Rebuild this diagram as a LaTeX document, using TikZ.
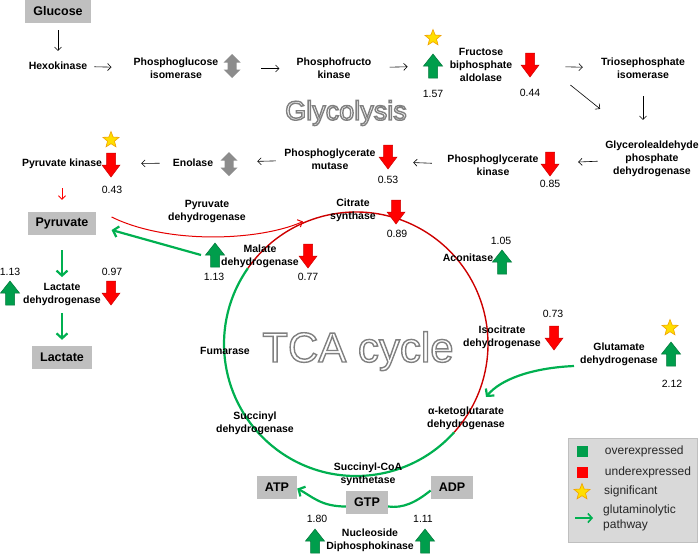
\documentclass[tikz,border=0pt]{standalone}
\usepackage{fontspec}
\setmainfont{Liberation Sans}
\usetikzlibrary{arrows.meta}
\usetikzlibrary{positioning}
\usetikzlibrary{calc}
\usetikzlibrary{shapes.geometric}

\definecolor{upgreen}{RGB}{0,158,76}
\definecolor{linegreen}{RGB}{0,176,80}
\definecolor{downred}{RGB}{255,0,0}
\definecolor{cyclered}{RGB}{205,0,0}
\definecolor{boxgray}{RGB}{191,191,191}
\definecolor{leggray}{RGB}{217,217,217}
\definecolor{arrgray}{RGB}{140,140,140}
\definecolor{staryellow}{RGB}{255,222,0}
\definecolor{starorange}{RGB}{240,160,0}

\newcommand{\ghostword}[1]{\color{white}\special{pdf:literal direct 0.5 G 1.4 w 2 Tr}#1\special{pdf:literal direct 0 Tr}}

\tikzset{
  enz/.style={font=\bfseries\fontsize{10.5}{13}\selectfont, align=center, inner sep=1pt},
  val/.style={font=\fontsize{10.5}{13}\selectfont, inner sep=1pt},
  met/.style={fill=boxgray, font=\bfseries\fontsize{12.5}{15}\selectfont, minimum height=23pt, inner xsep=8pt},
  legtext/.style={font=\fontsize{12}{15}\selectfont, text=black!85, inner sep=1pt},
  flow/.style={-{Straight Barb[length=3.5pt,width=7pt]}, line width=.6pt},
  glut/.style={draw=linegreen, line width=2.2pt, -{Straight Barb[length=5pt,width=11pt]}},
  pdharr/.style={draw=red!90!black, line width=1pt, -{Straight Barb[length=4pt,width=8pt]}},
  sig/.style={star, star points=5, star point ratio=2.3, fill=staryellow, draw=starorange, line width=.6pt, minimum size=17pt, inner sep=0pt},
  ghost/.style={font=\fontsize{#1}{#1}\selectfont, inner sep=0pt, anchor=base},
  upreg/.pic={\filldraw[fill=upgreen, draw=upgreen!75!black, line width=.5pt] (-4.5,12) -- (-4.5,0) -- (-9.5,0) -- (0,-12) -- (9.5,0) -- (4.5,0) -- (4.5,12) -- cycle;},
  downreg/.pic={\filldraw[fill=downred, draw=downred!80!black, line width=.5pt] (-4.5,-12) -- (-4.5,0) -- (-9,0) -- (0,12) -- (9,0) -- (4.5,0) -- (4.5,-12) -- cycle;},
  noreg/.pic={\fill[arrgray] (0,-12) -- (8.5,-3.5) -- (4.5,-3.5) -- (4.5,3.5) -- (8.5,3.5) -- (0,12) -- (-8.5,3.5) -- (-4.5,3.5) -- (-4.5,-3.5) -- (-8.5,-3.5) -- cycle;}
}

\begin{document}
\begin{tikzpicture}[x=1pt, y=-1pt]
    \useasboundingbox (0,0) rectangle (700,555);

    \node (glyc) [ghost=27] at (346,120) {\ghostword{Glycolysis}};
    \node (tcac) [ghost=42] at (358,362) {\ghostword{TCA cycle}};

    \coordinate (tca) at (356,344);
    \draw[cyclered, line width=1.4pt] (tca) ++(-145:132) arc[start angle=-145, end angle=42, radius=132];
    \draw[linegreen, line width=2.2pt] (tca) ++(42:132) arc[start angle=42, end angle=215, radius=132];

    \node (glc) [met] at (58,11) {Glucose};
    \node (hexo) [enz] at (58,66) {Hexokinase};
    \node (pgi) [enz] at (176,68.5) {Phosphoglucose\\isomerase};
    \node (pfk) [enz] at (334,68.5) {Phosphofructo\\kinase};
    \node (fba) [enz] at (481,65) {Fructose\\biphosphate\\aldolase};
    \node (tpi) [enz] at (643,68.5) {Triosephosphate\\isomerase};
    \node (gapdh) [enz] at (652,159) {Glycerolealdehyde\\phosphate\\dehydrogenase};
    \node (pgk) [enz] at (493,165.5) {Phosphoglycerate\\kinase};
    \node (pgm) [enz] at (330,159.5) {Phosphoglycerate\\mutase};
    \node (eno) [enz] at (193,163) {Enolase};
    \node (pk) [enz] at (62,164) {Pyruvate kinase};
    \node (pyr) [met] at (62,223) {Pyruvate};
    \node (pdh) [enz] at (207,211.5) {Pyruvate\\dehydrogenase};
    \node (ldh) [enz] at (62,294.5) {Lactate\\dehydrogenase};
    \node (lac) [met] at (62,357) {Lactate};
    \node (cs) [enz] at (353,210.5) {Citrate\\synthase};
    \node (mdh) [enz] at (260,256) {Malate\\dehydrogenase};
    \node (aco) [enz] at (468,258) {Aconitase};
    \node (fum) [enz] at (225,351) {Fumarase};
    \node (idh) [enz] at (502,337.5) {Isocitrate\\dehydrogenase};
    \node (gdh) [enz] at (619,354) {Glutamate\\dehydrogenase};
    \node (akgdh) [enz] at (466,418.5) {α-ketoglutarate\\dehydrogenase};
    \node (sdh) [enz] at (255,423) {Succinyl\\dehydrogenase};
    \node (scs) [enz] at (368,474.5) {Succinyl-CoA\\synthetase};
    \node (atp) [met] at (277,487.5) {ATP};
    \node (gtp) [met] at (367,502.5) {GTP};
    \node (adp) [met] at (452,487.5) {ADP};
    \node (ndpk) [enz] at (370,540) {Nucleoside\\Diphosphokinase};

    \draw[flow, shorten <=7.5pt, shorten >=10pt] (glc) -- (hexo);
    \draw[flow, shorten <=6pt, shorten >=21pt] (hexo) -- (pgi);
    \draw[flow, shorten <=42pt, shorten >=16pt] (pgi) -- (pfk);
    \draw[flow, shorten <=17pt, shorten >=41pt] (pfk) -- (fba);
    \draw[flow, shorten <=52pt, shorten >=17pt] (fba) -- (tpi);
    \draw[flow] ($(fba.east)+(57,20)$) -- ($(gapdh.north west)+(-4,-31)$);
    \draw[flow, shorten <=16pt, shorten >=20pt] (tpi.south) -- (tpi.south |- gapdh.north);
    \draw[flow, shorten <=6.5pt, shorten >=38.5pt] (gapdh) -- (pgk);
    \draw[flow, shorten <=14.5pt, shorten >=36.5pt] (pgk) -- (pgm);
    \draw[flow, shorten <=7.5pt, shorten >=43pt] (pgm) -- (eno);
    \draw[flow, shorten <=12pt, shorten >=38pt] (eno) -- (pk);
    \draw[flow, red, line width=.8pt, shorten <=18pt, shorten >=11.5pt] (pk) -- (pyr);
    \draw[glut, shorten <=15.5pt, shorten >=5pt] (pyr) -- (ldh);
    \draw[glut, shorten <=6pt, shorten >=5.5pt] (ldh) -- (lac);

    \draw[pdharr] ($(pyr.east)+(15,-6)$) .. controls +(57,28) and +(-43,19) .. ($(cs.west)+(-26,11)$);
    \draw[glut] ($(mdh.west)+(-19,-1)$) -- ($(pyr.east)+(15,7)$);
    \coordinate (akgin) at ($(tca)+(130,53)$);
    \draw[glut] ($(gdh.west)+(-5,12)$) .. controls +(-44,2) and +(14,-17) .. (akgin);
    \draw[linegreen, line width=2.2pt] ($(adp.west)+(0,3)$) .. controls +(-15,12) and +(15,2) .. ($(gtp.east)+(0,4)$);
    \draw[glut] ($(gtp.west)+(0,4)$) .. controls +(-25,0) and +(15,8) .. ($(atp.east)+(0,1)$);

    \pic at (232,66) {noreg};
    \pic at (433,66) {upreg};
    \pic at (530,65) {downreg};
    \pic at (550,164) {downreg};
    \pic at (388,157) {downreg};
    \pic at (229,164) {noreg};
    \pic at (111,165) {downreg};
    \pic at (396,212) {downreg};
    \pic at (215,255) {upreg};
    \pic at (308,256) {downreg};
    \pic at (502,262) {upreg};
    \pic at (10,293) {upreg};
    \pic at (111,293) {downreg};
    \pic at (554,338) {downreg};
    \pic at (671,354) {upreg};
    \pic at (315,541) {upreg};
    \pic at (425,541) {upreg};

    \node (s1) [sig] at (433,38) {};
    \node (s2) [sig] at (111,140) {};
    \node (s3) [sig] at (670,328) {};

    \node (v1) [val] at (433,94) {1.57};
    \node (v2) [val] at (530,93) {0.44};
    \node (v3) [val] at (550,184) {0.85};
    \node (v4) [val] at (388,180) {0.53};
    \node (v5) [val] at (112,190) {0.43};
    \node (v6) [val] at (397,234) {0.89};
    \node (v7) [val] at (501,241) {1.05};
    \node (v8) [val] at (214,277) {1.13};
    \node (v9) [val] at (308,277) {0.77};
    \node (v10) [val] at (10,272) {1.13};
    \node (v11) [val] at (112,272) {0.97};
    \node (v12) [val] at (553,314) {0.73};
    \node (v13) [val] at (672,384) {2.12};
    \node (v14) [val] at (317,519) {1.80};
    \node (v15) [val] at (423,519) {1.11};

    \node (leg) [fill=leggray, draw=black!25, minimum width=129pt, minimum height=104pt, inner sep=0pt] at (632.5,490) {};
    \node (lsq1) [fill=upgreen, minimum size=11pt, inner sep=0pt] at (582,451) {};
    \node (lt1) [legtext, right=16pt of lsq1] {overexpressed};
    \node (lsq2) [fill=downred, minimum size=11pt, inner sep=0pt] at (582,472) {};
    \node (lt2) [legtext, right=16pt of lsq2] {underexpressed};
    \node (ls) [sig] at (582,492) {};
    \node (lt3) [legtext, anchor=west] at (603,491) {significant};
    \node (lt4) [legtext, anchor=west, align=left] at (602,518) {glutaminolytic\\pathway};
    \coordinate (lk) at (575,518);
    \draw[linegreen, line width=1.6pt, -{Straight Barb[length=4pt,width=9pt]}, shorten >=9pt] (lk) -- (lk -| lt4.west);
\end{tikzpicture}
\end{document}
